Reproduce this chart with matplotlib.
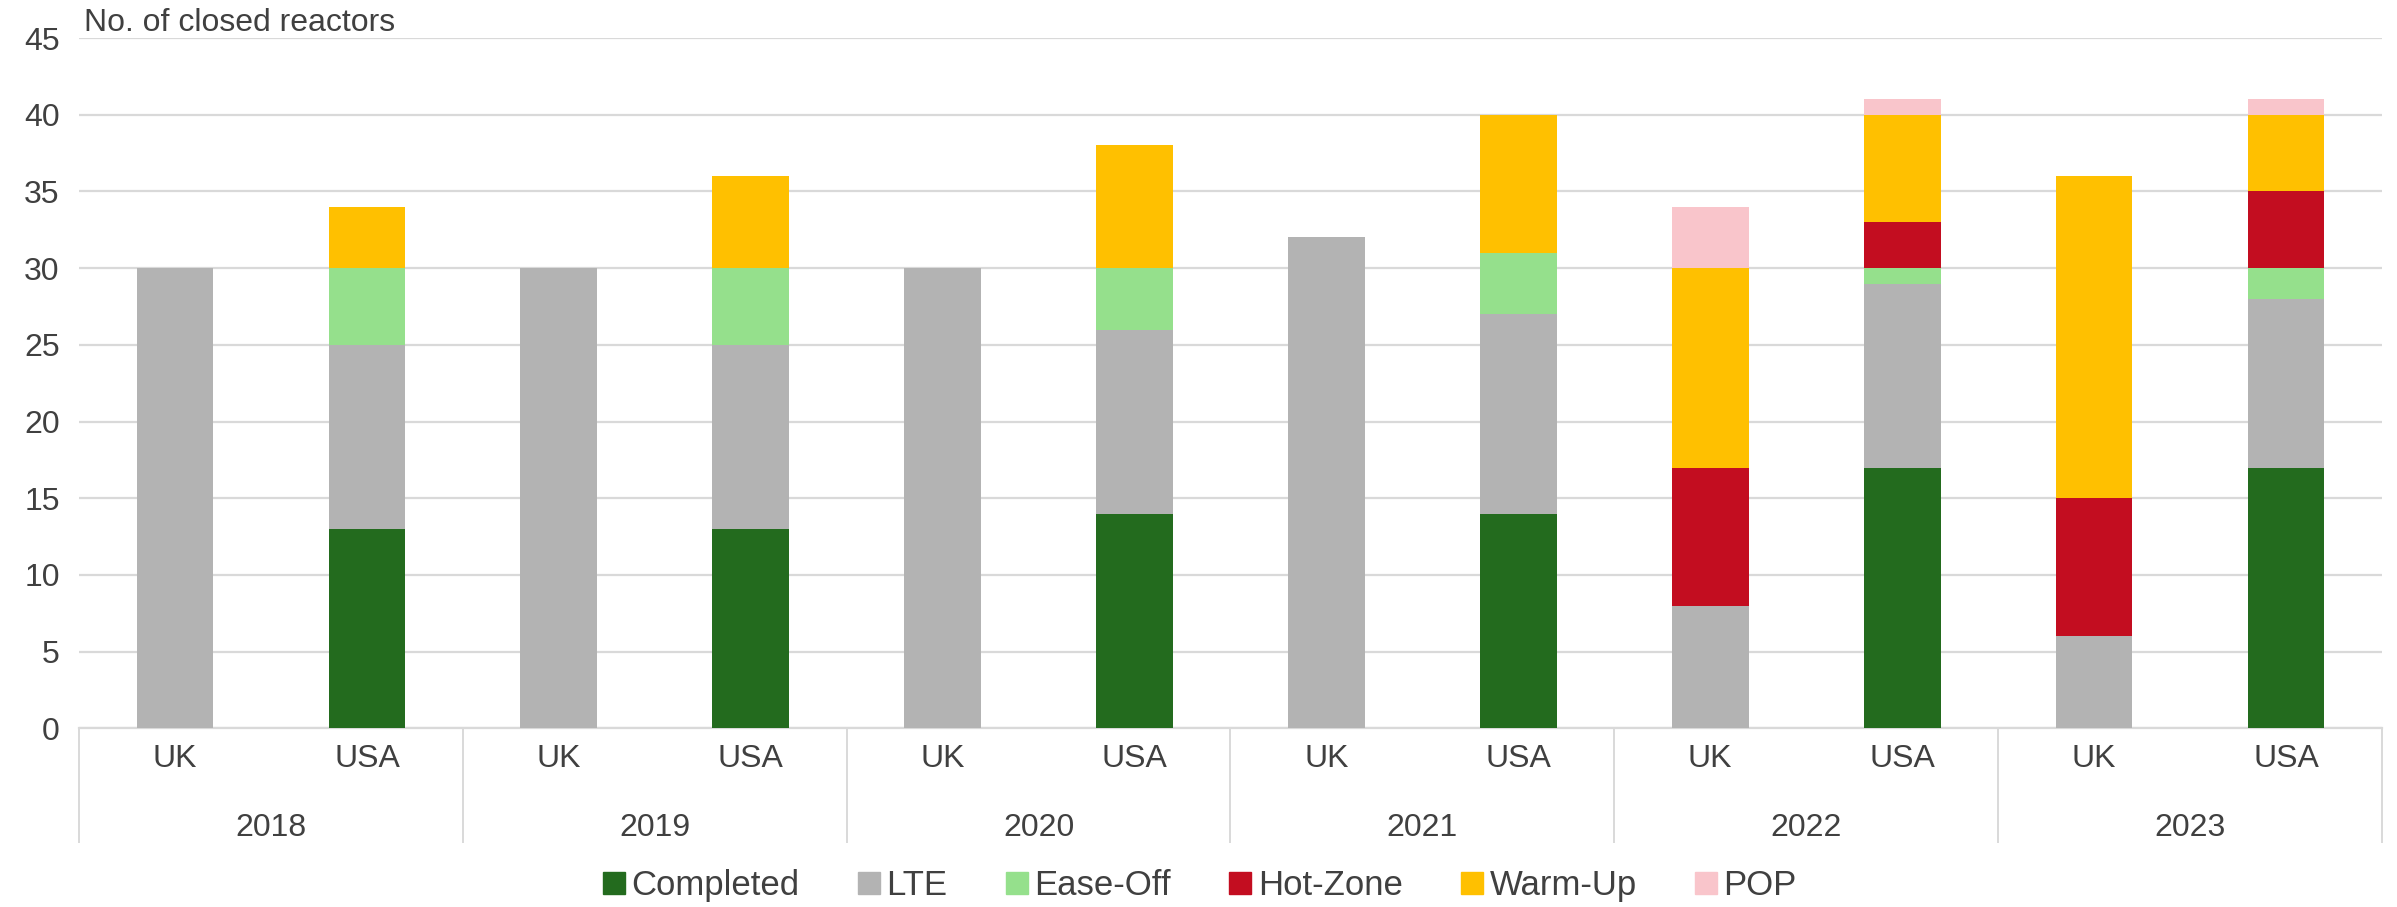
import numpy as np
import matplotlib
matplotlib.use("Agg")
import matplotlib.pyplot as plt
from matplotlib.lines import Line2D
import matplotlib.transforms as mtransforms

plt.rcParams['font.family'] = ['Liberation Sans', 'DejaVu Sans']

# Data
years = ['2018', '2019', '2020', '2021', '2022', '2023']
countries = ['UK', 'USA']
series_names = ['Completed', 'LTE', 'Ease-Off', 'Hot-Zone', 'Warm-Up', 'POP']
colors = ['#236b1e', '#b3b3b3', '#95e08c', '#c30d20', '#ffc000', '#f9c5cb']

# order of bars: 2018 UK, 2018 USA, 2019 UK, ...
completed = [0, 13, 0, 13, 0, 14, 0, 14, 0, 17, 0, 17]
lte       = [30, 12, 30, 12, 30, 12, 32, 13, 8, 12, 6, 11]
ease_off  = [0, 5, 0, 5, 0, 4, 0, 4, 0, 1, 0, 2]
hot_zone  = [0, 0, 0, 0, 0, 0, 0, 0, 9, 3, 9, 5]
warm_up   = [0, 4, 0, 6, 0, 8, 0, 9, 13, 7, 21, 5]
pop       = [0, 0, 0, 0, 0, 0, 0, 0, 4, 1, 0, 1]

series = [completed, lte, ease_off, hot_zone, warm_up, pop]

text_color = '#404040'
grid_color = '#d9d9d9'

fig = plt.figure(figsize=(23.97, 9.07), dpi=100)
ax = fig.add_axes([0.033, 0.197, 0.9607, 0.761])

x = np.arange(len(years) * len(countries))
bottom = np.zeros(len(x))
for name, vals, col in zip(series_names, series, colors):
    vals = np.array(vals, dtype=float)
    ax.bar(x, vals, width=0.4, bottom=bottom, color=col, label=name, zorder=3)
    bottom += vals

ax.set_xlim(-0.5, len(x) - 0.5)
ax.set_ylim(0, 45)
ax.set_yticks(np.arange(0, 46, 5))
ax.tick_params(axis='y', length=0, labelsize=23, labelcolor=text_color, pad=14)
ax.yaxis.grid(True, color=grid_color, linewidth=1.6, zorder=0)
for s in ['top', 'right', 'left']:
    ax.spines[s].set_visible(False)
ax.spines['bottom'].set_color(grid_color)
ax.spines['bottom'].set_linewidth(1.6)

# category axis: countries and years
ax.set_xticks(x)
ax.set_xticklabels(countries * len(years))
ax.tick_params(axis='x', length=0, labelsize=23, labelcolor=text_color, pad=11)

trans = mtransforms.blended_transform_factory(ax.transData, ax.transAxes)
for i, yr in enumerate(years):
    ax.text(2 * i + 0.5, -0.145, yr, transform=trans, ha='center', va='center',
            fontsize=23, color=text_color)
for b in range(len(years) + 1):
    ax.add_line(Line2D([2 * b - 0.5, 2 * b - 0.5], [0, -0.164], transform=trans,
                       color=grid_color, linewidth=1.4, clip_on=False))

fig.text(0.035, 0.975, 'No. of closed reactors', ha='left', va='center',
         fontsize=23, color=text_color)

handles = [Line2D([], [], marker='s', linestyle='none', markersize=16,
                  markerfacecolor=c, markeredgecolor=c) for c in colors]
fig.legend(handles, series_names, loc='center', bbox_to_anchor=(0.5, 0.024),
           ncol=6, frameon=False, fontsize=25, labelcolor=text_color,
           handletextpad=0.1, columnspacing=1.6, handlelength=0.8)

fig.savefig('out.png', dpi=100)
